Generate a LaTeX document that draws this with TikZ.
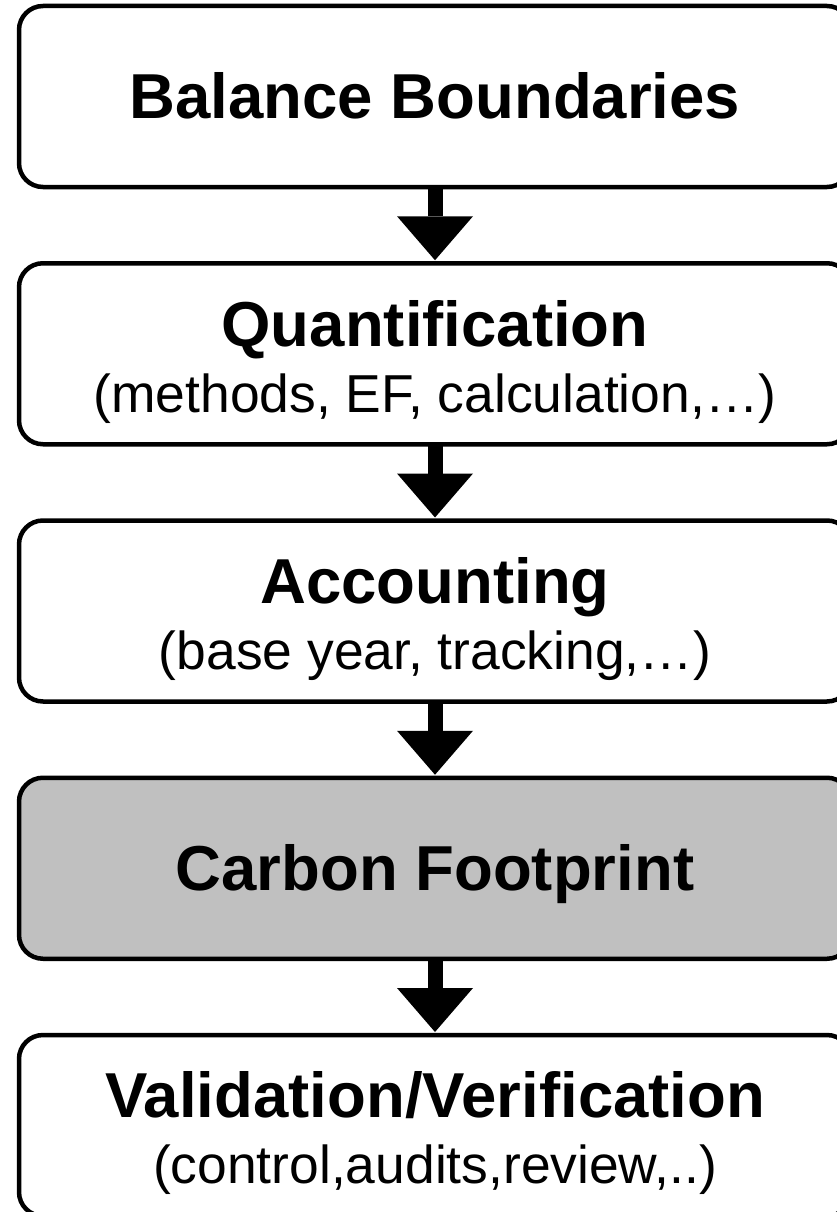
\documentclass[tikz,border=0pt]{standalone}
\usepackage{fontspec}
\setmainfont{Liberation Sans}
\usetikzlibrary{positioning, arrows.meta}
\definecolor{footgray}{RGB}{192,192,192}

\newcommand{\stagehead}[1]{\rule[-13pt]{0pt}{71pt}{\bfseries\fontsize{63.5}{66}\selectfont #1}}
\newcommand{\stagetwo}[2]{\rule{0pt}{62pt}{\bfseries\fontsize{63.5}{66}\selectfont #1}\\#2\rule[-11pt]{0pt}{0pt}}

\tikzset{
    stage/.style={draw, line width=4.5pt, rounded corners=24pt, fill=white,
        minimum width=832pt, minimum height=181pt, inner sep=0pt, outer sep=0pt,
        align=center, font=\fontsize{53.4}{66}\selectfont},
    flow/.style={line width=15pt, -{Triangle[width=76pt, length=44pt, line width=0pt]}, shorten >=3pt}
}

\begin{document}
\begin{tikzpicture}[x=1pt, y=1pt, node distance=76.25pt]
            \useasboundingbox (0,0) rectangle (836,-1212);
            
            \node[stage] (bound) at (435,-96.5) {\stagehead{Balance Boundaries}};
            \node[stage, below=of bound] (quant) {\stagetwo{Quantification}{(methods, EF, calculation,…)}};
            \node[stage, below=of quant] (acct) {\stagetwo{Accounting}{(base year, tracking,…)}};
            \node[stage, fill=footgray, below=of acct] (foot) {\stagehead{Carbon Footprint}};
            \node[stage, below=of foot] (valid) {\stagetwo{Validation/Verification}{(control,audits,review,..)}};
            
            \draw[flow] (bound.south) -- (quant.north);
            \draw[flow] (quant.south) -- (acct.north);
            \draw[flow] (acct.south) -- (foot.north);
            \draw[flow] (foot.south) -- (valid.north);
        \end{tikzpicture}
\end{document}
